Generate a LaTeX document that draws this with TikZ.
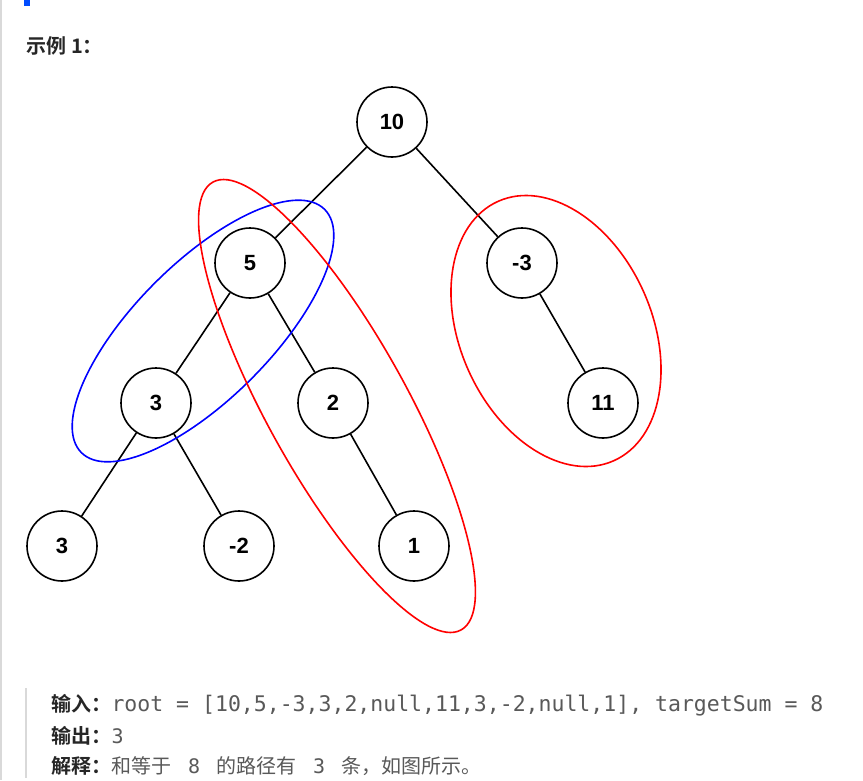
\documentclass[tikz,border=0pt]{standalone}
\usepackage{fontspec}
\setmainfont{Liberation Sans}
\newfontfamily\cjk{Noto Sans CJK SC}
\newfontfamily\cjkb{Noto Sans CJK SC Bold}
\setmonofont{DejaVu Sans Mono}
\begin{document}
\begin{tikzpicture}[x=1pt,y=-1pt,
  tn/.style={circle,draw,line width=1.6pt,minimum size=70pt,inner sep=0pt,font=\fontsize{22}{22}\selectfont\bfseries},
  ed/.style={line width=1.6pt},
  ring/.style={line width=1.6pt},
  para/.style={anchor=west,font=\fontsize{20}{20}\selectfont,text=black!65}]
\useasboundingbox (0,0) rectangle (863,780);
\fill[white] (0,0) rectangle (863,780);
\draw[gray!30,line width=1.5pt] (1,0) -- (1,780);
\fill[blue!70!cyan] (24,0) rectangle (30,6);
\node[anchor=west,font=\cjkb\fontsize{20}{20}\selectfont,text=black!85] (title) at (23,46) {示例 1：};
\node[tn] (a) at (392,122) {10};
\node[tn] (b) at (250,263) {5};
\node[tn] (c) at (522,263) {-3};
\node[tn] (d) at (156,403) {3};
\node[tn] (e) at (333,403) {2};
\node[tn] (f) at (603,403) {11};
\node[tn] (g) at (62,546) {3};
\node[tn] (h) at (239,546) {-2};
\node[tn] (i) at (414,546) {1};
\draw[ed] (a)--(b) (a)--(c) (b)--(d) (b)--(e) (c)--(f) (d)--(g) (d)--(h) (e)--(i);
\draw[ring,blue] (203,331) ellipse[x radius=172,y radius=68,rotate=45];
\draw[ring,red] (337,406) ellipse[x radius=256,y radius=70,rotate=-61];
\draw[ring,red] (556,331) ellipse[x radius=142,y radius=96,rotate=-66];
\draw[gray!30,line width=2pt] (26,688) -- (26,778);
\node[para] (in) at (48,705) {{\cjkb\color{black!85}输入：}{\fontsize{21.5}{21}\selectfont\texttt{root = [10,5,-3,3,2,null,11,3,-2,null,1], targetSum = 8}}};
\node[para] (out) at (48,736) {{\cjkb\color{black!85}输出：}\texttt{3}};
\node[para] (ex) at (48,766) {{\cjkb\color{black!85}解释：}{\cjk 和等于\ \texttt{ 8 }\ 的路径有\ \texttt{ 3 }\ 条，如图所示。}};
\end{tikzpicture}
\end{document}
